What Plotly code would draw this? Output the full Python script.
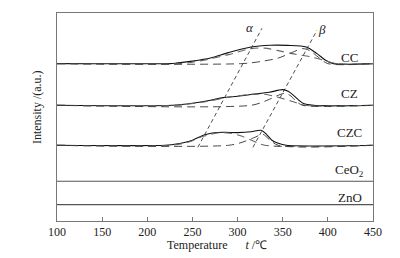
import plotly.graph_objects as go

# Temperature (°C) and intensity (a.u., offset) data
samples = ["CC", "CZ", "CZC", "CeO<sub>2</sub>", "ZnO"]
baselines = [157.4, 115.7, 75.7, 39.7, 16.4]

cc_T = [100, 225, 232, 250, 270, 290, 315, 336, 355, 376, 388, 398, 406, 450]
cc_I = [0, 0, 0.5, 2.5, 5.6, 11, 16.6, 18.3, 18.2, 16.6, 10, 3, 0, 0]
cc_a_T = [100, 235, 260, 290, 315, 330, 345, 360, 380, 395, 410, 450]
cc_a_I = [0, 0, 3, 9, 15, 15.5, 13, 10, 7, 3.5, 0, 0]
cc_b_T = [100, 305, 325, 345, 360, 372, 380, 390, 400, 450]
cc_b_I = [0, 0, 2, 5.5, 11, 15, 13, 6, 0, 0]

cz_T = [100, 228, 250, 270, 284, 300, 317, 335, 350, 356, 362, 368, 373, 384, 450]
cz_I = [0, 0, 2, 5, 7.7, 9, 11, 13, 15.7, 14, 10, 5, 1.7, 0, 0]
cz_a_T = [100, 232, 260, 290, 315, 330, 345, 360, 375, 450]
cz_a_I = [0, 0, 3, 8, 11, 11, 8, 4, 0, 0]
cz_b_T = [100, 315, 330, 345, 352, 358, 365, 372, 450]
cz_b_I = [0, 0, 4, 10, 12, 10, 4, 0, 0]

czc_T = [100, 220, 230, 240, 250, 262, 272, 285, 300, 315, 326, 332, 338, 345, 354, 450]
czc_I = [0, 0, 1, 2.5, 5, 10, 12.3, 13, 12.7, 13.5, 15, 11, 5, 2, 0, 0]
czc_a_T = [100, 225, 245, 262, 280, 292, 305, 318, 330, 450]
czc_a_I = [0, 0, 3, 9, 12.5, 12, 9, 4, 0, 0]
czc_b_T = [100, 290, 305, 318, 328, 335, 345, 450]
czc_b_I = [0, 0, 3, 7.5, 11, 6, 0, 0]

flat_T = [100, 450]
flat_I = [0, 0]

alpha_T = [256, 327]
alpha_y = [73.7, 192.7]
beta_T = [317, 388]
beta_y = [73.7, 190.7]

x_ticks = [100, 150, 200, 250, 300, 350, 400, 450]

fig = go.Figure()

def add(T, I, base, color, dash, width=1.0):
    fig.add_trace(go.Scatter(
        x=T, y=[base + v for v in I], mode="lines",
        line=dict(color=color, dash=dash, width=width, shape="spline", smoothing=0.8),
        showlegend=False, hoverinfo="skip"))

groups = [
    (cc_T, cc_I, cc_a_T, cc_a_I, cc_b_T, cc_b_I),
    (cz_T, cz_I, cz_a_T, cz_a_I, cz_b_T, cz_b_I),
    (czc_T, czc_I, czc_a_T, czc_a_I, czc_b_T, czc_b_I),
]
for g, base in zip(groups, baselines[:3]):
    T, I, aT, aI, bT, bI = g
    add(T, I, base, "#111111", "solid", 1.1)
    add(aT, aI, base, "#666666", "8px,5px", 1.1)
    add(bT, bI, base, "#333333", "8px,5px", 0.9)

for base in baselines[3:]:
    add(flat_T, flat_I, base, "#555555", "solid", 1.1)

# alpha / beta guide lines
fig.add_trace(go.Scatter(x=alpha_T, y=alpha_y, mode="lines",
                         line=dict(color="#222222", dash="4px,3px", width=0.8),
                         showlegend=False, hoverinfo="skip"))
fig.add_trace(go.Scatter(x=beta_T, y=beta_y, mode="lines",
                         line=dict(color="#222222", dash="4px,3px", width=0.8),
                         showlegend=False, hoverinfo="skip"))

serif = "Liberation Serif, Times New Roman, serif"
label_y = [163.7, 127.7, 89.0, 50.7, 24.0]
for name, ly in zip(samples, label_y):
    fig.add_annotation(x=424.5, y=ly, text=name, showarrow=False,
                       font=dict(family=serif, size=13, color="#222222"),
                       xanchor="center", yanchor="middle")

fig.add_annotation(x=313.6, y=193.5, text="<i>α</i>", showarrow=False,
                   font=dict(family=serif, size=13, color="#222222"))
fig.add_annotation(x=393.5, y=191.5, text="<i>β</i>", showarrow=False,
                   font=dict(family=serif, size=13, color="#222222"))

fig.add_annotation(xref="paper", yref="paper", x=0.506, y=-0.115,
                   text="Temperature      <i>t</i> /℃", showarrow=False,
                   font=dict(family=serif, size=12, color="#222222"),
                   xanchor="center", yanchor="middle")
fig.add_annotation(xref="paper", yref="paper", x=-0.063, y=0.548,
                   text="Intensity /(a.u.)", showarrow=False, textangle=-90,
                   font=dict(family=serif, size=12, color="#222222"),
                   xanchor="center", yanchor="middle")

fig.update_xaxes(range=[100, 450], tickvals=x_ticks, ticks="inside", ticklen=4,
                 tickcolor="#777777", showline=True, linecolor="#777777", linewidth=1,
                 mirror=True, showgrid=False, zeroline=False,
                 tickfont=dict(family=serif, size=12, color="#222222"))
fig.update_yaxes(range=[0, 208], showticklabels=False, ticks="",
                 showline=True, linecolor="#777777", linewidth=1, mirror=True,
                 showgrid=False, zeroline=False)

# page body has an 8px margin; the figure is sized/offset so the plot area
# lands where the reference has it
fig.update_layout(width=392, height=250,
                  margin=dict(l=49, r=27, t=5, b=37),
                  paper_bgcolor="white", plot_bgcolor="white")

fig.write_html("out.html")
